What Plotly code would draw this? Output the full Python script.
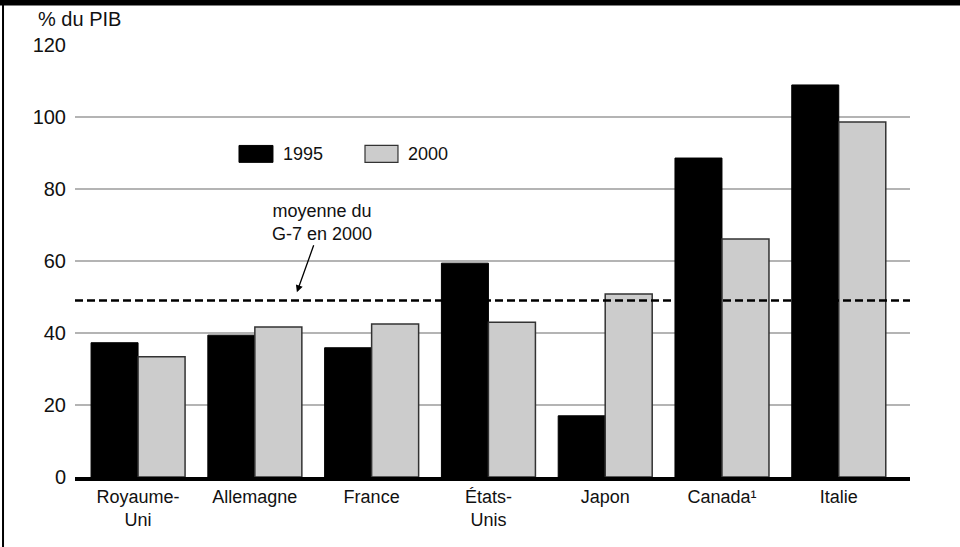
import plotly.graph_objects as go

# Dette publique brute, % du PIB
categories = ["Royaume-<br>Uni", "Allemagne", "France", "États-<br>Unis", "Japon", "Canada¹", "Italie"]
values_1995 = [37.3, 39.4, 35.9, 59.4, 17.0, 88.6, 108.9]
values_2000 = [33.4, 41.7, 42.5, 43.0, 50.8, 66.1, 98.6]
g7_mean_2000 = 49.0
y_ticks = [0, 20, 40, 60, 80, 100, 120]

FONT = "Liberation Sans, Arial, sans-serif"

fig = go.Figure()
fig.add_trace(go.Bar(
    x=categories, y=values_1995, name="1995",
    marker=dict(color="#000000", line=dict(color="#000000", width=1)),
    showlegend=False,
))
fig.add_trace(go.Bar(
    x=categories, y=values_2000, name="2000",
    marker=dict(color="#cccccc", line=dict(color="#333333", width=1.5)),
    showlegend=False,
))

# moyenne du G-7 (dashed)
fig.add_hline(y=g7_mean_2000, line=dict(color="black", width=2.5, dash="8px,4px"))

fig.add_annotation(
    x=1.36, y=51.3, xref="x", yref="y",
    text="moyenne du<br>G-7 en 2000",
    showarrow=True, arrowhead=2, arrowsize=1.1, arrowwidth=1.3, arrowcolor="black",
    ax=25, ay=-70,
    font=dict(family=FONT, size=18, color="#111"),
    align="center",
)

# legend drawn by hand (large swatches like the original)
fig.add_shape(type="rect", xref="paper", yref="y", x0=0.1964, x1=0.2371, y0=87.4, y1=92.1,
              fillcolor="#000000", line=dict(color="#000000", width=1))
fig.add_shape(type="rect", xref="paper", yref="y", x0=0.3473, x1=0.3868, y0=87.4, y1=92.1,
              fillcolor="#cccccc", line=dict(color="#333333", width=1.2))
fig.add_annotation(x=0.2465, y=89.8, xref="paper", yref="y", text="1995", showarrow=False,
                   xanchor="left", font=dict(family=FONT, size=18, color="#111"))
fig.add_annotation(x=0.3962, y=89.8, xref="paper", yref="y", text="2000", showarrow=False,
                   xanchor="left", font=dict(family=FONT, size=18, color="#111"))

# y-axis title
fig.add_annotation(x=-0.047, y=1.060, xref="paper", yref="paper", text="% du PIB", showarrow=False,
                   xanchor="left", yanchor="middle", font=dict(family=FONT, size=20, color="#111"))

# frame: thick top band and thin left rule
fig.add_shape(type="rect", xref="paper", yref="paper", x0=-0.2, x1=1.2, y0=1.0915, y1=1.2,
              fillcolor="black", line=dict(width=0), layer="above")
fig.add_shape(type="line", xref="paper", yref="paper", x0=-0.0862, x1=-0.0862, y0=-0.3, y1=1.2,
              line=dict(color="black", width=2), layer="above")

fig.update_layout(
    width=960, height=547,
    barmode="group", bargap=0.195, bargroupgap=0,
    plot_bgcolor="white", paper_bgcolor="white",
    margin=dict(l=75, r=50, t=45, b=70),
    font=dict(family=FONT, size=18, color="#111"),
    xaxis=dict(
        range=[-0.54, 6.61], showgrid=False,
        showline=True, linecolor="black", linewidth=4,
        ticks="", tickfont=dict(size=18), fixedrange=True,
    ),
    yaxis=dict(
        range=[0, 120], tickvals=y_ticks, showgrid=True,
        gridcolor="#b4b4b4", gridwidth=1.5, zeroline=False,
        showline=False, ticks="", ticklabelstandoff=8,
        tickfont=dict(size=20), fixedrange=True,
    ),
)

fig.write_html(
    "out.html",
    config={"displayModeBar": False},
    post_script="document.body.style.margin='0';",
)
